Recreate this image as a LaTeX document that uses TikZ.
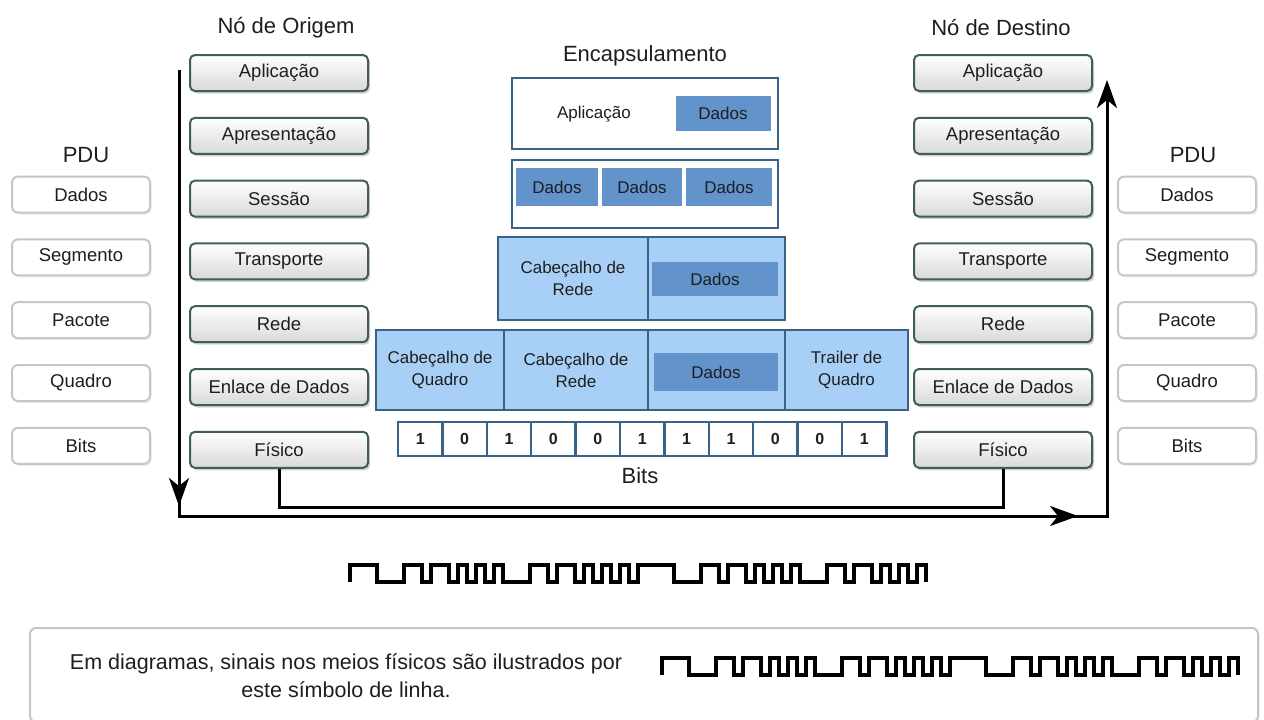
\documentclass[tikz,border=0pt]{standalone}
\usepackage{fontspec}
\setmainfont{Liberation Sans}
\usetikzlibrary{positioning,shadows,arrows.meta}
\definecolor{borda}{HTML}{405C5C}
\definecolor{cinza}{HTML}{C6C6C6}
\definecolor{azulborda}{HTML}{3A6186}
\definecolor{azulclaro}{HTML}{A8D0F6}
\definecolor{azulescuro}{HTML}{6393CB}
\definecolor{texto}{HTML}{1E1E1E}
\begin{document}
\begin{tikzpicture}[x=1pt, y=-1pt, node distance=24.8pt, text=texto,
        camada/.style={rectangle, rounded corners=5pt, draw=borda, line width=2pt, top color=white, bottom color=black!15, minimum width=178pt, minimum height=36pt, drop shadow={shadow xshift=2pt, shadow yshift=-2.5pt, opacity=0.35}, font=\fontsize{18.5}{20}\selectfont},
        pdu/.style={rectangle, rounded corners=6pt, draw=cinza, line width=2pt, fill=white, minimum width=138pt, minimum height=36pt, drop shadow={shadow xshift=1.5pt, shadow yshift=-2pt, opacity=0.15}, font=\fontsize{18.5}{20}\selectfont},
        titulo/.style={font=\fontsize{22}{24}\selectfont},
        caixa/.style={draw=azulborda, line width=2.5pt, inner sep=0pt, align=center, font=\fontsize{17}{22}\selectfont},
        dados/.style={fill=azulescuro, inner sep=0pt, font=\fontsize{17}{19}\selectfont},
        bit/.style={draw=azulborda, line width=2.5pt, fill=white, minimum width=44.4pt, minimum height=34pt, inner sep=0pt, font=\fontsize{16}{18}\selectfont\bfseries},
        linha/.style={line width=3pt, line join=miter},
        seta/.style={line width=3pt, -{Stealth[length=28pt, width=20pt, inset=8pt]}},
        sinal/.pic={\draw[line width=4pt, x=9pt, y=17pt] (0,0) \foreach \px/\py in {3/1,6/0,8/1,9/0,11/1,12/0,13/1,14/0,15/1,16/0,17/1,20/0,22/1,23/0,25/1,26/0,27/1,28/0,29/1,30/0,31/1,32/0,36/1,39/0,41/1,42/0,44/1,45/0,46/1,47/0,48/1,49/0,50/1,53/0,55/1,56/0,58/1,59/0,60/1,61/0,62/1,63/0,64/1} { |- (\px,\py) } -- (64,0);}]
    \fill[white] (0,0) rectangle (1264,720);
    \useasboundingbox (0,0) rectangle (1264,720);

    % no de origem
    \node[titulo] (torig) at (286,28) {Nó de Origem};
    \node[camada] (o1) at (279,73) {Aplicação};
    \node[camada] (o2) [below=of o1] {Apresentação};
    \node[camada] (o3) [below=of o2] {Sessão};
    \node[camada] (o4) [below=of o3] {Transporte};
    \node[camada] (o5) [below=of o4] {Rede};
    \node[camada] (o6) [below=of o5] {Enlace de Dados};
    \node[camada] (o7) [below=of o6] {Físico};

    % no de destino
    \node[titulo] (tdest) at (1001,28) {Nó de Destino};
    \node[camada] (d1) at (1003,73) {Aplicação};
    \node[camada] (d2) [below=of d1] {Apresentação};
    \node[camada] (d3) [below=of d2] {Sessão};
    \node[camada] (d4) [below=of d3] {Transporte};
    \node[camada] (d5) [below=of d4] {Rede};
    \node[camada] (d6) [below=of d5] {Enlace de Dados};
    \node[camada] (d7) [below=of d6] {Físico};

    % PDUs
    \node[titulo] (pe0) at (86,155) {PDU};
    \node[pdu] (pe1) at (81,194.6) {Dados};
    \node[pdu] (pe2) [below=of pe1] {Segmento};
    \node[pdu] (pe3) [below=of pe2] {Pacote};
    \node[pdu] (pe4) [below=of pe3] {Quadro};
    \node[pdu] (pe5) [below=of pe4] {Bits};
    \node[titulo] (pd0) at (1193,155) {PDU};
    \node[pdu] (pd1) at (1187,194.6) {Dados};
    \node[pdu] (pd2) [below=of pd1] {Segmento};
    \node[pdu] (pd3) [below=of pd2] {Pacote};
    \node[pdu] (pd4) [below=of pd3] {Quadro};
    \node[pdu] (pd5) [below=of pd4] {Bits};

    % encapsulamento
    \node[titulo] (tenc) at (645,56) {Encapsulamento};
    \node[caixa, fill=white, minimum width=266pt, minimum height=71pt] (e1) at (645,113.5) {};
    \node[caixa, draw=none] (e1a) at (594,114) {Aplicação};
    \node[dados, minimum width=95pt, minimum height=35pt] (e1d) at (723,113) {Dados};
    \node[caixa, fill=white, minimum width=266pt, minimum height=68pt] (e2) at (645,194) {};
    \node[dados, minimum width=82pt, minimum height=38pt] (e2a) at (557,187) {Dados};
    \node[dados, minimum width=80pt, minimum height=38pt] (e2b) at (642,187) {Dados};
    \node[dados, minimum width=86pt, minimum height=38pt] (e2c) at (729,187) {Dados};
    \node[caixa, fill=azulclaro, minimum width=150pt, minimum height=83pt] (r1) at (573,278.5) {Cabeçalho de\\Rede};
    \node[caixa, fill=azulclaro, minimum width=137pt, minimum height=83pt] (r2) at (716.5,278.5) {};
    \node[dados, minimum width=126pt, minimum height=34pt] (r2d) at (715,279) {Dados};
    \node[caixa, fill=azulclaro, minimum width=128pt, minimum height=80pt] (q1) at (440,370) {Cabeçalho de\\Quadro};
    \node[caixa, fill=azulclaro, minimum width=144pt, minimum height=80pt] (q2) at (576,370) {Cabeçalho de\\Rede};
    \node[caixa, fill=azulclaro, minimum width=137pt, minimum height=80pt] (q3) at (716.5,370) {};
    \node[caixa, fill=azulclaro, minimum width=123pt, minimum height=80pt] (q4) at (846.5,370) {Trailer de\\Quadro};
    \node[dados, minimum width=124pt, minimum height=38pt] (q3d) at (716,372) {Dados};
    \foreach \b [count=\i] in {1,0,1,0,0,1,1,1,0,0,1}
        \node[bit] (b\i) at ({398+44.4*(\i-0.5)},439) {\b};
    \node[titulo] (tbits) at (640,476) {Bits};

    % setas
    \coordinate (a0) at (179,70);
    \coordinate (a1) at (179,516);
    \coordinate (a2) at (1107,516);
    \coordinate (a3) at (1107,80);
    \coordinate (m1) at (179,506);
    \coordinate (m2) at (1078,516);
    \draw[linha, seta] (a0) -- (a1) -- (a2) -- (a3);
    \draw[seta] (a0) -- (m1);
    \draw[seta] (a1) -- (m2);
    \draw[linha] (o7.south) -- ++(0,39) -| (d7.south);

    % sinais
    \pic at (350,582) {sinal};
    \node[rectangle, rounded corners=6pt, draw=cinza, line width=2pt, minimum width=1228pt, minimum height=94pt, drop shadow={shadow xshift=1.5pt, shadow yshift=-2pt, opacity=0.15}, fill=white] (nota) at (644,675) {};
    \node[align=center, font=\fontsize{21.5}{28}\selectfont] (ntexto) at (346,676) {Em diagramas, sinais nos meios físicos são ilustrados por\\este símbolo de linha.};
    \pic at (662,675) {sinal};
\end{tikzpicture}
\end{document}
